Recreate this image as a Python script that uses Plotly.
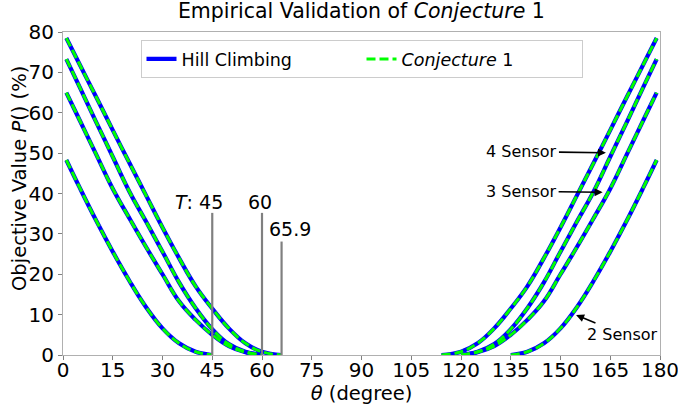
import plotly.graph_objects as go

# ---- data ----
# left branches (theta from 1 deg up to the threshold T)
theta_A_left = [1, 5, 10, 15, 20, 25, 30, 35, 40, 45, 50, 55, 60, 65.9]
P_A_left = [78.5, 72.0, 63.9, 55.7, 47.6, 39.6, 31.6, 24.0, 17.0, 11.5, 6.6, 2.9, 0.8, 0.0]

theta_B_left = [1, 5, 10, 15, 20, 25, 30, 35, 40, 45, 50, 55, 60]
P_B_left = [73.3, 66.4, 57.7, 49.1, 40.5, 33.1, 25.6, 18.0, 11.6, 6.4, 2.7, 0.8, 0.0]

theta_C_left = [1, 5, 10, 15, 20, 25, 30, 35, 40, 45, 50, 55, 60]
P_C_left = [65.0, 58.2, 49.7, 41.2, 33.9, 26.8, 20.0, 13.3, 8.7, 5.0, 2.2, 0.7, 0.0]

theta_D_left = [1, 5, 10, 15, 20, 25, 30, 35, 40, 45]
P_D_left = [48.3, 41.5, 33.3, 25.6, 18.4, 11.9, 6.6, 2.9, 0.8, 0.0]

# right branches (theta from 180-T up to 179 deg)
theta_A_right = [114.1, 120, 125, 130, 135, 140, 145, 150, 155, 160, 165, 170, 175, 179]
P_A_right = [0.0, 0.8, 2.9, 6.6, 11.5, 17.0, 24.0, 31.6, 39.6, 47.6, 55.7, 63.9, 72.0, 78.5]

theta_B_right = [120, 125, 130, 135, 140, 145, 150, 155, 160, 165, 170, 175, 179]
P_B_right = [0.0, 0.8, 2.7, 6.4, 11.6, 18.0, 25.6, 33.1, 40.5, 49.1, 57.7, 66.4, 73.3]

theta_C_right = [120, 125, 130, 135, 140, 145, 150, 155, 160, 165, 170, 175, 179]
P_C_right = [0.0, 0.7, 2.2, 5.0, 8.7, 13.3, 20.0, 26.8, 33.9, 41.2, 49.7, 58.2, 65.0]

theta_D_right = [135, 140, 145, 150, 155, 160, 165, 170, 175, 179]
P_D_right = [0.0, 0.8, 2.9, 6.6, 11.9, 18.4, 25.6, 33.3, 41.5, 48.3]

# thresholds T and their marker heights
T_values = [45, 60, 65.9]
T_heights = [35.2, 35.2, 28.1]
T_labels = ["<i>T</i>: 45", "60", "65.9"]
T_label_x = [41.1, 59.5, 68.3]
T_label_y = [38.0, 38.0, 31.3]

# sensor annotations (arrow tip positions)
sensor_labels = ["4 Sensor", "3 Sensor", "2 Sensor"]
sensor_tip_x = [163.7, 162.7, 154.7]
sensor_tip_y = [50.1, 40.3, 9.9]
sensor_ax = [-84, -81, 46]
sensor_ay = [-1, -1, 19]

x_ticks = list(range(0, 181, 15))
y_ticks = list(range(0, 81, 10))

series = [
    (theta_A_left, P_A_left), (theta_B_left, P_B_left),
    (theta_C_left, P_C_left), (theta_D_left, P_D_left),
    (theta_A_right, P_A_right), (theta_B_right, P_B_right),
    (theta_C_right, P_C_right), (theta_D_right, P_D_right),
]

FONT = "DejaVu Sans"
fig = go.Figure()

for i, (tx, py) in enumerate(series):
    fig.add_trace(go.Scatter(
        x=tx, y=py, mode="lines", name="Hill Climbing",
        line=dict(color="#0000ff", width=4.2, shape="spline", smoothing=1.2),
        showlegend=(i == 0), legendgroup="hc", legendrank=1))
for i, (tx, py) in enumerate(series):
    fig.add_trace(go.Scatter(
        x=tx, y=py, mode="lines", name="<i>Conjecture</i> 1",
        line=dict(color="#00ff00", width=3, dash="9px,4px", shape="spline", smoothing=1.2),
        showlegend=(i == 0), legendgroup="cj", legendrank=2))

for t, h in zip(T_values, T_heights):
    fig.add_trace(go.Scatter(x=[t, t], y=[0, h], mode="lines",
                             line=dict(color="#808080", width=2.2), showlegend=False))

annotations = []
for lab, lx, ly in zip(T_labels, T_label_x, T_label_y):
    annotations.append(dict(x=lx, y=ly, text=lab, showarrow=False,
                            font=dict(family=FONT, size=19, color="black"),
                            xanchor="center", yanchor="middle"))
for lab, tx, ty, ax, ay in zip(sensor_labels, sensor_tip_x, sensor_tip_y, sensor_ax, sensor_ay):
    annotations.append(dict(x=tx, y=ty, text=lab, showarrow=True, ax=ax, ay=ay,
                            arrowhead=2, arrowsize=1, arrowwidth=1.6, arrowcolor="black",
                            font=dict(family=FONT, size=16, color="black")))
# y-axis title
annotations.append(dict(x=-0.072, y=0.545, xref="paper", yref="paper",
                        text="Objective Value <i>P</i>() (%)", textangle=-90, showarrow=False,
                        xanchor="center", yanchor="middle",
                        font=dict(family=FONT, size=19.5, color="black")))

fig.update_layout(
    width=678, height=411,
    margin=dict(l=63, r=18, t=32, b=56),
    paper_bgcolor="white", plot_bgcolor="white",
    font=dict(family=FONT, size=17, color="black"),
    title=dict(text="Empirical Validation of <i>Conjecture</i> 1", x=0.533, xanchor="center",
               y=0.974, yanchor="middle", yref="container",
               font=dict(family=FONT, size=20.5, color="black")),
    legend=dict(orientation="h", x=0.5, xanchor="center", y=0.975, yanchor="top",
                bordercolor="#cccccc", borderwidth=1, bgcolor="white",
                font=dict(family=FONT, size=17.5), entrywidth=175, entrywidthmode="pixels",
                traceorder="normal"),
    annotations=annotations,
    xaxis=dict(range=[0, 180], tickvals=x_ticks, showgrid=False, zeroline=False,
               showline=True, linecolor="#b0b0b0", linewidth=1, mirror=True,
               ticks="outside", ticklen=4, tickcolor="#808080", automargin=False,
               ticklabeloverflow="allow", ticklabelstandoff=-7,
               tickfont=dict(family=FONT, size=20),
               title=dict(text="<i>θ</i> (degree)", font=dict(family=FONT, size=19.5), standoff=0)),
    yaxis=dict(range=[0, 80], tickvals=y_ticks, showgrid=False, zeroline=False,
               showline=True, linecolor="#b0b0b0", linewidth=1, mirror=True,
               ticks="outside", ticklen=4, tickcolor="#808080", automargin=False,
               ticklabeloverflow="allow",
               tickfont=dict(family=FONT, size=20)),
)

fig.write_html("out.html")
